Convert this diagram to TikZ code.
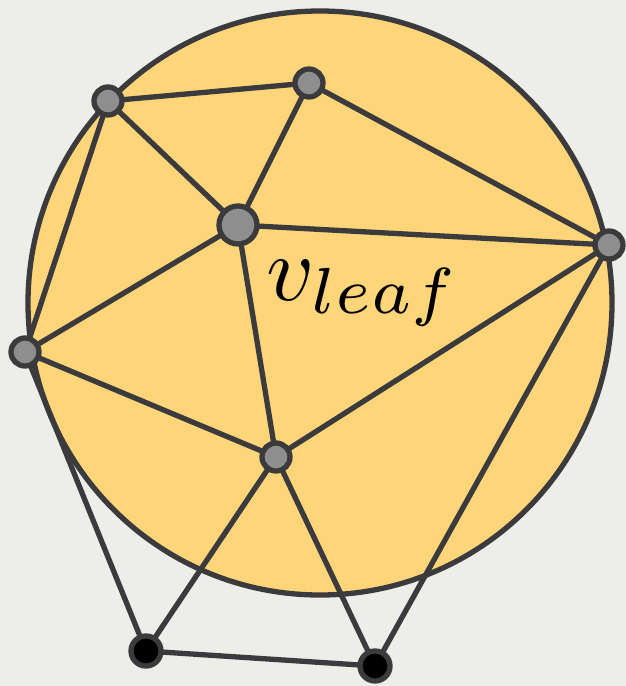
\documentclass[tikz,border=0pt]{standalone}
\definecolor{bg}{HTML}{EDEDEA}
\definecolor{disk}{HTML}{FFD57A}
\definecolor{ink}{HTML}{3B3B3D}
\definecolor{vgray}{HTML}{8E8E8E}
\begin{document}
\begin{tikzpicture}[x=1pt,y=-1pt,
  edge/.style={draw=ink,line width=5.3pt},
  vsmall/.style={circle,draw=ink,line width=5.3pt,fill=vgray,minimum size=28pt,inner sep=0pt},
  vbig/.style={circle,draw=ink,line width=5.3pt,fill=vgray,minimum size=38pt,inner sep=0pt},
  vblack/.style={circle,draw=ink,line width=5.3pt,fill=black,minimum size=30pt,inner sep=0pt}]
\fill[bg] (0,0) rectangle (626,686);
\useasboundingbox (0,0) rectangle (626,686);
\draw[fill=disk,draw=ink,line width=5.3pt] (320,303) circle[radius=292];
\coordinate (a) at (108,101);
\coordinate (b) at (309,83);
\coordinate (c) at (238,225);
\coordinate (d) at (609,245);
\coordinate (e) at (25,352);
\coordinate (f) at (276,457);
\coordinate (g) at (146,651);
\coordinate (h) at (375,666);
\draw[edge] (a)--(b) (a)--(c) (a)--(e) (b)--(c) (b)--(d) (c)--(d) (c)--(e) (c)--(f)
  (d)--(f) (d)--(h) (e)--(f) (e)--(g) (f)--(g) (f)--(h) (g)--(h);
\node[vsmall] (na) at (a) {};
\node[vsmall] (nb) at (b) {};
\node[vbig] (nc) at (c) {};
\node[vsmall] (nd) at (d) {};
\node[vsmall] (ne) at (e) {};
\node[vsmall] (nf) at (f) {};
\node[vblack] (ng) at (g) {};
\node[vblack] (nh) at (h) {};
\node[anchor=base west,inner sep=0pt,scale=9.3] (lbl) at (265,300) {$v_{leaf}$};
\end{tikzpicture}
\end{document}
